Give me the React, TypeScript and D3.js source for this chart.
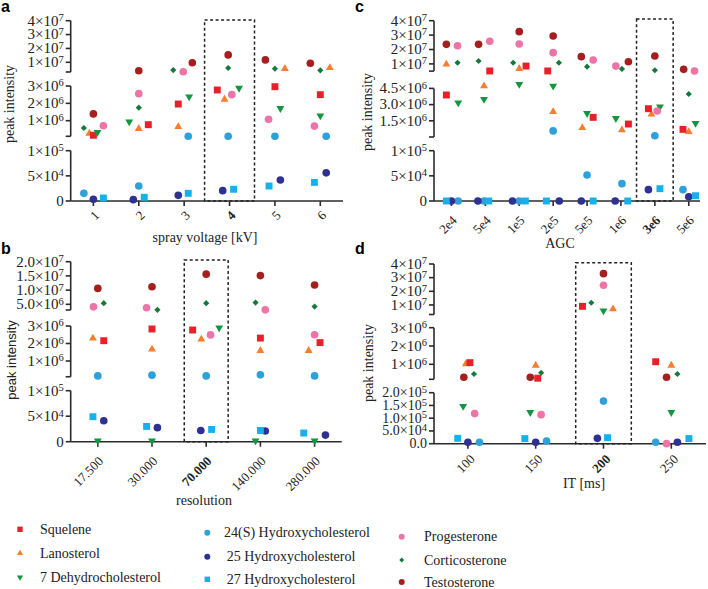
import React from "react";
import * as d3 from "d3";

// ---------- series ----------
const seriesNames = [
  "Squelene",
  "Lanosterol",
  "7 Dehydrocholesterol",
  "24(S) Hydroxycholesterol",
  "25 Hydroxycholesterol",
  "27 Hydroxycholesterol",
  "Progesterone",
  "Corticosterone",
  "Testosterone",
];
const seriesColors = ["#e8202a", "#f47d30", "#12963f", "#2ea1da", "#2e3192", "#16b0ea", "#ec74a7", "#15793a", "#a61f1f"];
const seriesShapes = ["square", "triangleUp", "triangleDown", "circle", "circle", "square", "circle", "diamond", "circle"];
const drawOrder = [1, 0, 2, 3, 4, 5, 6, 7, 8];

// ---------- panel a : spray voltage ----------
const aCategories = ["1", "2", "3", "4", "5", "6"];
const aHighlight = "4";
const aSegments = [[0, 1e5], [1e5, 3e6], [3e6, 4e7]];
const aTicks = [[0, 5e4, 1e5], [1e6, 2e6, 3e6], [1e7, 2e7, 3e7, 4e7]];
const aTickDecimals = [0, 0, 0];
const aValues = [
  [0.16e6, 0.77e6, 1.96e6, 2.77e6, 2.96e6, 2.5e6],
  [0.27e6, 0.54e6, 0.65e6, 2.23e6, 5.4e6, 6.1e6],
  [0.33e6, 0.94e6, 2.38e6, 2.88e6, 1.71e6, 1.29e6],
  [15.3e3, 29.8e3, 1.05e5, 1.05e5, 1.05e5, 1.05e5],
  [3.4e3, 2.6e3, 11.3e3, 20.5e3, 41.7e3, 56e3],
  [6e3, 7.4e3, 15.3e3, 23.3e3, 29.8e3, 37e3],
  [0.71e6, 2.56e6, 3.2e6, 2.5e6, 1.08e6, 0.69e6],
  [0.58e6, 1.75e6, 4.4e6, 5.9e6, 5.4e6, 4.2e6],
  [1.39e6, 3.9e6, 9.7e6, 1.53e7, 1.17e7, 9.3e6],
];
const aDodge = [
  [0, 0.21, -0.13, -0.27, 0, 0],
  [-0.09, 0, -0.13, -0.11, 0.22, 0.21],
  [0.09, -0.21, 0.11, 0.21, 0.12, 0],
  [-0.21, 0, 0.09, -0.03, 0, 0.13],
  [0, -0.12, -0.13, -0.15, 0.12, 0.13],
  [0.22, 0.12, 0.09, 0.09, -0.13, -0.13],
  [0.22, 0, -0.02, 0.05, -0.14, -0.13],
  [-0.21, 0, -0.24, -0.03, 0, 0],
  [0, 0, 0.18, -0.03, -0.21, -0.22],
];

// ---------- panel b : resolution ----------
const bCategories = ["17.500", "30.000", "70.000", "140.000", "280.000"];
const bHighlight = "70.000";
const bSegments = [[0, 1e5], [1e5, 3e6], [3e6, 2e7]];
const bTicks = [[0, 5e4, 1e5], [1e6, 2e6, 3e6], [5e6, 1e7, 1.5e7, 2e7]];
const bTickDecimals = [0, 0, 1];
const bValues = [
  [2.16e6, 2.83e6, 2.77e6, 2.31e6, 2.05e6],
  [2.3e6, 1.67e6, 2.24e6, 1.59e6, 1.59e6],
  [2e3, 2e3, 2.9e6, 2e3, 2e3],
  [0.15e6, 0.19e6, 0.15e6, 0.21e6, 0.15e6],
  [41e3, 27.5e3, 22e3, 21e3, 13e3],
  [49e3, 30e3, 24e3, 22e3, 17e3],
  [4.1e6, 3.8e6, 2.49e6, 3.05e6, 2.5e6],
  [5.4e6, 3.05e6, 5.4e6, 5.6e6, 4.2e6],
  [1.06e7, 1.12e7, 1.56e7, 1.51e7, 1.18e7],
];
const bDodge = [
  [0.11, 0, -0.25, 0, 0.1],
  [-0.09, 0, -0.09, 0, -0.11],
  [0, 0, 0.24, -0.09, 0],
  [0, 0, 0, 0, 0],
  [0.11, 0.1, -0.1, 0.09, 0.2],
  [-0.09, -0.1, 0.1, 0, -0.2],
  [-0.08, -0.1, 0.08, 0.09, 0],
  [0.11, 0.1, 0, -0.09, 0],
  [0, 0, 0, 0, 0],
];

// ---------- panel c : AGC ----------
const cCategories = ["2e4", "5e4", "1e5", "2e5", "5e5", "1e6", "3e6", "5e6"];
const cHighlight = "3e6";
const cSegments = [[0, 1e5], [0, 5e6], [5e6, 4e7]];
const cTicks = [[0, 5e4, 1e5], [1.5e6, 3e6, 4.5e6], [1e7, 2e7, 3e7, 4e7]];
const cTickDecimals = [0, 1, 0];
const cValues = [
  [3.89e6, 5.1e6, 8.5e6, 5.1e6, 1.82e6, 1.2e6, 2.62e6, 0.71e6],
  [9.7e6, 4.72e6, 6.7e6, 2.34e6, 0.86e6, 0.65e6, 2.1e6, 0.49e6],
  [3.18e6, 3.49e6, 4.88e6, 4.72e6, 2.19e6, 1.73e6, 2.8e6, 1.27e6],
  [0, 0, 0, 0.56e6, 51.7e3, 34.4e3, 0.12e6, 22.5e3],
  [0, 0, 0, 0, 0, 0, 22.5e3, 8.5e3],
  [0, 0, 0, 0, 0, 0, 24.5e3, 10.5e3],
  [2.26e7, 2.57e7, 2.38e7, 1.78e7, 1.27e7, 8.5e6, 2.41e6, 5.1e6],
  [1.08e7, 1.2e7, 1.08e7, 1.08e7, 8.1e6, 6.5e6, 5.6e6, 3.98e6],
  [2.36e7, 2.36e7, 3.24e7, 2.94e7, 1.5e7, 1.15e7, 1.55e7, 6.25e6],
];
const cDodge = [
  [-0.15, 0.13, 0.2, -0.16, 0.18, 0.22, -0.19, -0.17],
  [-0.15, -0.04, 0, 0, -0.14, 0.03, -0.1, 0],
  [0.2, -0.04, 0, 0, 0, -0.15, 0.15, 0.2],
  [0.2, -0.04, 0, 0, 0, 0.03, 0, -0.17],
  [0, -0.22, -0.2, 0.18, -0.17, -0.17, -0.19, 0],
  [-0.15, 0.1, 0.18, -0.2, 0.18, 0.2, 0.15, 0.2],
  [0.18, 0.13, 0, 0, 0.18, -0.15, 0.07, 0.17],
  [0.18, -0.2, -0.18, 0.17, 0, 0.03, 0, 0],
  [-0.15, -0.2, 0, 0, -0.17, 0.22, 0, -0.15],
];

// ---------- panel d : IT ----------
const dCategories = ["100", "150", "200", "250"];
const dHighlight = "200";
const dSegments = [[0, 2e5], [1.8e5, 3e6], [3e6, 4e7]];
const dTicks = [[0, 5e4, 1e5, 1.5e5, 2e5], [1e6, 2e6, 3e6], [1e7, 2e7, 3e7, 4e7]];
const dTickDecimals = [1, 0, 0];
const dValues = [
  [1.09e6, 0.24e6, 9.0e6, 1.14e6],
  [1.02e6, 0.94e6, 7.0e6, 0.94e6],
  [1.47e5, 1.23e5, 5.8e6, 1.23e5],
  [5.5e3, 10.6e3, 1.67e5, 5.5e3],
  [5.5e3, 5.5e3, 21e3, 5.5e3],
  [21e3, 20e3, 23.5e3, 20e3],
  [1.18e5, 1.14e5, 2.44e7, 0],
  [0.47e6, 0.54e6, 1.16e7, 0.47e6],
  [0.29e6, 0.29e6, 3.29e7, 0.29e6],
];
const dDodge = [
  [0.03, 0.03, -0.31, -0.23],
  [-0.03, 0, 0.14, 0],
  [-0.07, -0.08, 0, 0],
  [0.17, 0.16, 0, -0.23],
  [0, 0, -0.09, 0.09],
  [-0.15, -0.16, 0.06, 0.26],
  [0.1, 0.08, 0, -0.07],
  [0.09, 0.08, -0.18, 0.09],
  [-0.06, -0.08, 0, -0.07],
];

// ---------- drawing helpers ----------
const SERIF = "'Liberation Serif', 'Times New Roman', serif";
const SANS = "'Liberation Sans', Arial, sans-serif";
const AXIS = "#2b2b2b";

function symbolPath(shape: string, s: number) {
  const g = d3.symbol();
  switch (shape) {
    case "square":
      return g.type(d3.symbolSquare).size(48 * s * s)() as string;
    case "triangleUp":
    case "triangleDown":
      return g.type(d3.symbolTriangle).size(27 * s * s)() as string;
    case "diamond":
      return g.type(d3.symbolSquare).size(19 * s * s)() as string;
    default:
      return g.type(d3.symbolCircle).size(46 * s * s)() as string;
  }
}
function symbolRotate(shape: string) {
  if (shape === "triangleDown") return 180;
  if (shape === "diamond") return 45;
  return 0;
}

function Marker({ shape, color, x, y, s = 1 }: any) {
  return (
    <path
      d={symbolPath(shape, s)}
      fill={color}
      transform={`translate(${x},${y}) rotate(${symbolRotate(shape)})`}
    />
  );
}

function fmtTick(v: number, dec: number) {
  if (v === 0) return { m: dec ? (0).toFixed(dec) : "0", e: null as number | null };
  const e = Math.floor(Math.log10(v) + 1e-9);
  return { m: (v / Math.pow(10, e)).toFixed(dec), e };
}

function Panel(props: any) {
  const { L, cats, highlight, segments, ticks, decimals, values, dodge, xTitle, letter } = props;
  const x = d3.scalePoint<string>().domain(cats).range([L.x0, L.x1]).padding(0.5);
  const step = x.step();
  const ys = segments.map((d: number[], i: number) => d3.scaleLinear().domain(d).range(L.segRanges[i]));
  const yOf = (v: number) => {
    let k = 0;
    for (let i = 1; i < segments.length; i++) if (v > segments[i - 1][1]) k = i;
    const [lo, hi] = segments[k];
    return ys[k](Math.max(lo, Math.min(hi, v)));
  };
  const hx = x(highlight) as number;
  return (
    <g>
      <text x={L.letter[0]} y={L.letter[1]} fontFamily={SANS} fontWeight="bold" fontSize={16}>{letter}</text>
      {/* y axis segments */}
      {segments.map((seg: number[], i: number) => {
        const top = ys[i](Math.max(...ticks[i]));
        const bot = ys[i](seg[0]);
        return (
          <g key={i}>
            <line x1={L.axisX} x2={L.axisX} y1={bot} y2={top} stroke={AXIS} strokeWidth={1.6} />
            {i > 0 && <line x1={L.axisX - 5} x2={L.axisX} y1={bot} y2={bot} stroke={AXIS} strokeWidth={1.6} />}
            {ticks[i].map((t: number) => {
              const y = ys[i](t);
              const f = fmtTick(t, decimals[i]);
              return (
                <g key={t}>
                  <line x1={L.axisX - 5} x2={L.axisX} y1={y} y2={y} stroke={AXIS} strokeWidth={1.6} />
                  <text x={L.axisX - 7} y={y} dy="0.32em" textAnchor="end" fontFamily={SERIF}
                    fontSize={ticks[i].length > 4 ? 14 : 15} fill="#222">
                    {f.m}
                    {f.e !== null ? "×10" : null}
                    {f.e !== null ? <tspan dy="-0.42em" fontSize={10.5}>{f.e}</tspan> : null}
                  </text>
                </g>
              );
            })}
          </g>
        );
      })}
      {/* x axis */}
      <line x1={L.axisX} x2={L.xEnd} y1={L.axisY} y2={L.axisY} stroke={AXIS} strokeWidth={1.6} />
      {cats.map((c: string) => {
        const cx = x(c) as number;
        return (
          <g key={c}>
            <line x1={cx} x2={cx} y1={L.axisY} y2={L.axisY + 5} stroke={AXIS} strokeWidth={1.6} />
            <text
              transform={`translate(${cx + L.xLab[0]},${L.axisY + L.xLab[1]}) rotate(-45)`}
              textAnchor="end"
              dy="0.35em"
              fontFamily={SERIF}
              fontSize={13}
              fontWeight={c === highlight ? "bold" : "normal"}
              fill="#222"
            >
              {c}
            </text>
          </g>
        );
      })}
      {/* highlight box */}
      <rect
        x={hx - (L.boxW * step) / 2}
        y={L.boxTop}
        width={L.boxW * step}
        height={L.axisY - L.boxTop}
        fill="none"
        stroke="#222"
        strokeWidth={1.5}
        strokeDasharray="3,2.5"
      />
      {/* titles */}
      <text x={L.xTitle[0]} y={L.xTitle[1]} textAnchor="middle" fontFamily={SERIF} fontSize={14} fill="#222">{xTitle}</text>
      <text
        transform={`translate(${L.yTitle[0]},${L.yTitle[1]}) rotate(-90)`}
        textAnchor="middle"
        dy="0.35em"
        fontFamily={L.yTitleSans ? SANS : SERIF}
        fontSize={L.yTitleSans ? 13 : 14}
        fill="#222"
      >
        peak intensity
      </text>
      {/* points */}
      {drawOrder.map((si) => (
        <g key={si}>
          {cats.map((c: string, ci: number) => (
            <Marker
              key={ci}
              shape={seriesShapes[si]}
              color={seriesColors[si]}
              x={(x(c) as number) + dodge[si][ci] * step}
              y={yOf(values[si][ci])}
            />
          ))}
        </g>
      ))}
    </g>
  );
}

const layoutA = {
  x0: 70.7, x1: 343, xEnd: 343, axisX: 70.7, axisY: 201,
  segRanges: [[201, 150.7], [136.3, 86], [72, 20.7]],
  boxW: 1.1, boxTop: 20, xLab: [3.5, 12], xTitle: [205, 242], yTitle: [9, 104], yTitleSans: false, letter: [1, 12],
};
const layoutB = {
  x0: 70.7, x1: 341.7, xEnd: 341.7, axisX: 70.7, axisY: 441.7,
  segRanges: [[441.7, 390.7], [376.75, 326], [310, 261.7]],
  boxW: 0.81, boxTop: 260, xLab: [3, 17], xTitle: [204, 505], yTitle: [11, 360], yTitleSans: true, letter: [1, 254],
};
const layoutC = {
  x0: 434.5, x1: 705.7, xEnd: 700, axisX: 434, axisY: 201,
  segRanges: [[201, 150.7], [137, 83], [71.1, 20.7]],
  boxW: 1.08, boxTop: 19, xLab: [3, 17], xTitle: [560, 248], yTitle: [367, 112], yTitleSans: false, letter: [355, 12],
};
const layoutD = {
  x0: 434, x1: 705.2, xEnd: 706, axisX: 434, axisY: 443.7,
  segRanges: [[443.7, 392.7], [379.3, 327.7], [314.5, 264]],
  boxW: 0.82, boxTop: 262.7, xLab: [4.5, 13], xTitle: [584, 488], yTitle: [368, 363], yTitleSans: false, letter: [355, 254],
};

const legendLayout = [
  { mx: 20, tx: 40, ys: [529.3, 553.3, 577.3] },
  { mx: 207.3, tx: [224, 226.7, 226.7], ys: [532.7, 556.7, 579.3] },
  { mx: 401.7, tx: 424, ys: [536.7, 560, 582] },
];

function Legend() {
  return (
    <g>
      {seriesNames.map((name, i) => {
        const col = Math.floor(i / 3);
        const row = i % 3;
        const L = legendLayout[col];
        const tx = Array.isArray(L.tx) ? L.tx[row] : L.tx;
        const y = L.ys[row];
        return (
          <g key={name}>
            <Marker shape={seriesShapes[i]} color={seriesColors[i]} x={L.mx} y={y} s={0.78} />
            <text x={tx} y={y} dy="0.33em" fontFamily={SERIF} fontSize={14} fill="#222">{name}</text>
          </g>
        );
      })}
    </g>
  );
}

export default function App() {
  return (
    <svg
      width={708}
      height={589}
      viewBox="0 0 708 589"
      style={{ position: "absolute", left: 0, top: 0, background: "#fff" }}
    >
      <rect width={708} height={589} fill="#fff" />
      <Panel L={layoutA} cats={aCategories} highlight={aHighlight} segments={aSegments} ticks={aTicks}
        decimals={aTickDecimals} values={aValues} dodge={aDodge} xTitle="spray voltage [kV]" letter="a" />
      <Panel L={layoutB} cats={bCategories} highlight={bHighlight} segments={bSegments} ticks={bTicks}
        decimals={bTickDecimals} values={bValues} dodge={bDodge} xTitle="resolution" letter="b" />
      <Panel L={layoutC} cats={cCategories} highlight={cHighlight} segments={cSegments} ticks={cTicks}
        decimals={cTickDecimals} values={cValues} dodge={cDodge} xTitle="AGC" letter="c" />
      <Panel L={layoutD} cats={dCategories} highlight={dHighlight} segments={dSegments} ticks={dTicks}
        decimals={dTickDecimals} values={dValues} dodge={dDodge} xTitle="IT [ms]" letter="d" />
      <Legend />
    </svg>
  );
}
